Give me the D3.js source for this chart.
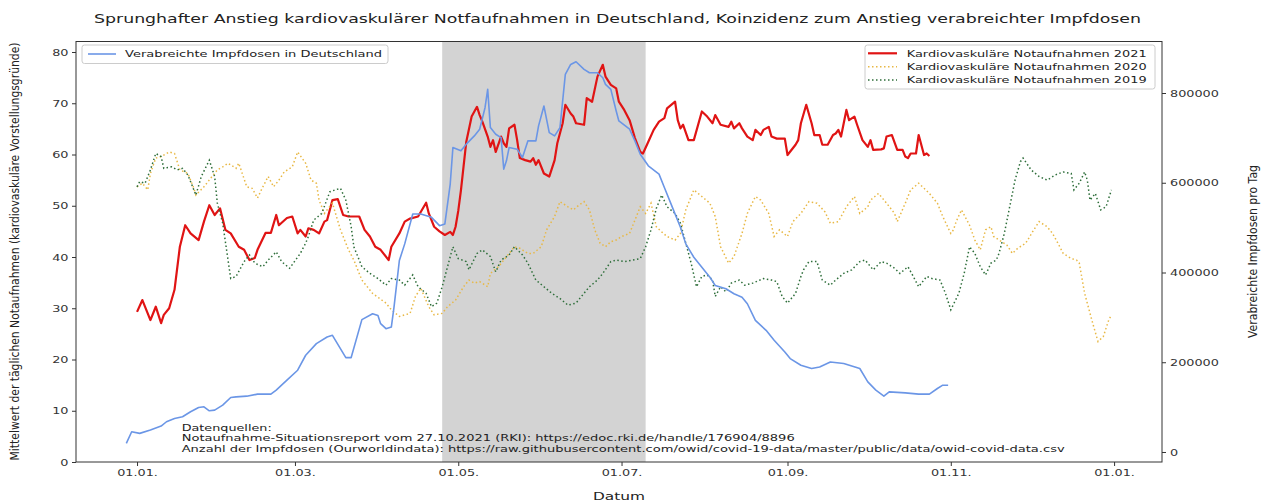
<!DOCTYPE html>
<html>
<head>
<meta charset="utf-8">
<script src="https://cdn.jsdelivr.net/npm/d3@7"></script>
<style>
body { margin:0; background:#fff; }
svg { display:block; font-family:"DejaVu Sans", sans-serif; }
</style>
</head>
<body>
<script>
// Tage ab 01.01. (Tag 0) und Werte
var days2021 = [0,2,5,7,9,10,12,14,16,18,20,23,25,27,29,31,33,35,38,40,42,44,45,48,50,52,53,56,58,60,61,63,64,66,68,70,71,73,75,77,79,83,85,87,89,91,94,95,98,100,102,105,108,109,111,113,115,117,118,119,120,121,123,125,127,128,129,131,132,133,134,136,137,138,139,141,142,143,145,147,148,149,150,152,154,156,157,159,160,162,163,164,167,168,170,172,174,175,177,179,180,182,184,186,188,189,191,193,195,197,198,201,202,203,204,206,208,211,213,215,216,218,221,222,223,225,226,228,230,231,233,234,236,237,239,242,243,246,247,248,250,252,253,255,256,258,260,261,262,263,265,266,268,269,271,273,274,275,278,279,280,282,284,286,287,288,289,291,292,294,295,296];
var cardio2021 = [29.3,31.6,27.7,30.3,27.1,28.7,30.0,33.6,42.0,46.2,44.6,43.3,46.9,50.1,48.2,49.5,45.3,44.6,42.0,41.4,39.4,39.8,41.4,44.7,44.7,48.2,46.2,47.6,47.9,44.6,45.3,44.0,45.6,45.3,44.6,46.9,47.2,51.1,51.3,48.2,47.9,47.9,45.3,44.0,42.0,41.4,39.4,42.0,44.6,46.9,47.5,47.9,50.6,48.5,45.9,45.0,44.3,44.9,44.3,45.9,49.0,53.0,62.5,67.4,69.3,67.7,66.4,63.5,61.5,62.8,60.5,63.5,62.2,61.5,65.1,65.8,62.8,59.3,58.9,58.6,59.3,58.0,58.9,56.3,55.7,58.9,62.2,66.1,69.7,68.0,67.4,66.1,65.8,71.0,70.3,75.2,77.5,75.2,73.6,72.9,70.3,68.7,66.7,63.2,60.5,60.2,62.5,64.8,66.4,67.1,69.0,70.3,66.7,65.1,65.8,62.8,62.8,68.4,67.4,66.1,67.7,65.8,65.4,66.4,65.1,66.1,65.1,63.5,62.8,64.8,63.8,64.8,65.4,63.5,63.1,63.1,59.9,61.9,62.8,66.1,69.7,66.1,63.8,63.8,61.9,61.9,63.8,64.1,64.8,63.5,68.7,66.7,67.4,65.8,62.8,61.5,62.8,60.9,61.0,61.2,63.5,63.8,60.9,60.9,59.6,59.3,60.2,60.2,63.8,59.9,60.2,59.7];

var days2020 = [0,2,4,5,7,9,12,14,16,19,21,22,25,28,30,32,34,37,38,41,43,45,47,49,51,53,55,58,60,63,65,67,68,70,71,73,76,79,81,84,88,93,95,98,100,102,104,106,109,111,114,116,119,122,124,126,128,131,132,135,137,141,143,146,148,151,153,156,158,161,163,165,167,169,171,173,175,177,179,181,184,186,188,190,192,194,196,198,201,203,205,208,211,214,216,218,221,223,226,228,231,233,236,238,240,243,245,248,251,254,257,259,262,265,268,270,273,274,277,280,283,284,287,289,292,294,296,299,301,304,305,306,308,311,313,315,317,319,320,323,325,327,329,332,335,337,340,342,344,346,349,351,352,354,357,359,361,363,364];
var cardio2020 = [53.7,54.4,53.1,56.3,59.3,59.6,60.5,60.2,57.0,56.3,53.7,52.1,53.7,55.7,57.0,57.6,58.3,57.3,58.3,53.7,53.4,51.5,53.7,55.7,53.7,55.0,56.6,57.6,60.5,58.3,55.0,54.4,51.1,48.5,49.2,50.5,45.3,41.4,39.4,35.5,32.9,31.0,29.7,28.4,28.7,29.0,32.3,33.9,30.3,28.7,29.0,30.3,31.6,34.2,35.5,34.9,35.2,34.2,36.8,38.1,39.4,42.0,41.7,40.7,40.7,42.0,45.3,47.9,50.8,49.8,49.2,50.1,50.8,49.2,45.3,42.7,42.0,43.0,43.3,44.0,44.6,47.2,49.8,48.5,50.5,45.9,44.9,44.0,43.3,44.6,49.2,53.1,51.8,50.5,47.9,42.0,38.8,40.1,44.6,48.5,51.8,51.1,48.5,44.0,45.3,44.0,46.9,48.5,50.8,50.5,48.8,46.6,46.9,49.8,51.8,48.5,49.8,51.1,52.4,50.5,48.5,46.9,50.5,53.1,54.4,53.4,52.4,50.5,47.9,44.6,45.3,46.9,49.2,46.2,43.3,41.4,45.3,45.9,44.0,43.0,42.3,40.7,41.7,42.7,45.3,46.9,45.9,44.6,42.7,40.7,39.7,39.4,38.8,32.9,27.1,23.5,24.5,27.7,28.7];

var days2019 = [0,1,3,5,7,9,10,13,15,17,19,22,24,27,29,30,32,34,35,37,40,42,44,47,49,52,54,57,61,63,64,66,69,72,74,76,78,80,81,84,87,90,93,95,98,100,103,105,108,110,112,114,116,118,120,123,124,127,129,132,134,136,139,141,144,146,149,152,155,158,161,164,166,169,172,174,177,179,182,185,188,190,192,194,196,198,201,203,205,207,209,211,213,215,216,218,220,222,225,227,230,234,237,239,241,243,246,248,249,251,254,256,259,261,264,267,270,272,275,278,280,283,285,288,290,292,295,297,300,302,304,307,309,311,313,315,317,319,321,322,324,326,328,330,331,334,337,340,343,346,349,350,352,354,355,356,358,360,362,364];
var cardio2019 = [53.7,54.7,54.4,57.0,60.2,59.6,57.3,57.6,57.0,57.3,56.0,52.1,55.7,58.9,55.7,50.5,46.6,39.4,35.8,36.2,39.1,40.4,38.8,38.1,39.4,41.0,39.1,37.8,40.7,42.7,44.0,47.2,48.5,52.7,53.1,53.4,51.1,45.9,42.0,38.1,36.8,35.8,34.5,35.8,35.5,34.5,36.5,34.2,32.9,30.3,31.0,34.2,38.1,42.0,39.7,39.1,37.5,40.7,41.4,40.1,37.1,39.4,40.4,42.0,40.4,38.8,35.5,34.2,32.9,31.9,30.6,31.0,32.3,34.2,35.5,36.8,39.1,39.4,39.1,39.4,39.7,42.0,45.3,49.5,52.1,49.8,48.5,46.6,42.7,38.8,34.2,36.2,36.5,35.5,32.3,34.2,33.2,34.9,35.5,34.5,34.9,35.8,35.5,35.2,32.3,31.0,32.9,36.2,37.5,39.1,39.1,35.5,34.5,35.5,36.8,37.5,39.1,39.4,37.5,39.1,38.8,37.8,36.8,38.1,36.2,34.2,36.2,35.8,35.5,32.9,29.7,32.9,36.8,42.0,40.7,38.1,36.5,38.8,39.4,40.7,44.6,49.8,55.0,58.6,59.3,57.0,55.7,55.0,56.0,56.6,56.3,53.1,54.4,56.6,55.0,51.1,52.4,49.2,49.8,53.1];

var vaccDays = [-4,-2,1,5,9,11,14,17,20,23,25,27,29,32,35,37,41,45,50,52,56,60,63,67,71,73,78,80,84,88,90,91,93,95,96,98,100,103,106,110,113,115,117,118,121,123,126,128,130,131,132,134,136,137,138,139,142,144,146,149,150,152,154,156,158,160,162,164,167,169,172,174,175,177,179,180,184,186,188,191,195,197,200,203,205,208,211,214,216,220,223,226,228,231,235,238,242,244,248,252,255,259,264,270,273,276,279,281,287,292,296,299,301,303];
var vaccDoses = [19300,45100,41500,48900,57800,67400,74800,78500,89600,99300,100700,91800,93300,104400,121500,122900,124400,128900,128900,137800,160000,182200,215600,241500,256200,260000,210400,210400,295000,308200,304000,286000,274800,278500,322900,426700,463800,530400,530400,522900,504400,508200,597100,678400,671100,686000,704400,719300,767300,808200,722900,708200,700700,630400,648900,678400,674800,656200,693300,693300,726700,771100,711800,704400,722900,841600,863700,869600,852700,845100,845100,834000,819300,808200,760000,737800,719300,693300,663700,637800,619300,589600,545100,500700,463800,434000,411800,389600,371100,363700,352700,345100,330400,293300,271100,248900,222900,208200,193300,186000,189600,200700,197100,186000,156200,137800,124400,134000,131800,128900,128900,141500,148900,148900];

var spanDates = ["2021-04-25", "2021-07-10"];
var xTickDates = ["2021-01-01","2021-03-01","2021-05-01","2021-07-01","2021-09-01","2021-11-01","2022-01-01"];
var leftTicks = [0,10,20,30,40,50,60,70,80];
var rightTicks = [0,200000,400000,600000,800000];

var titleText = "Sprunghafter Anstieg kardiovaskulärer Notfaufnahmen in Deutschland, Koinzidenz zum Anstieg verabreichter Impfdosen";
var legendRight = ["Kardiovaskuläre Notaufnahmen 2021", "Kardiovaskuläre Notaufnahmen 2020", "Kardiovaskuläre Notaufnahmen 2019"];
var legendLeft = "Verabreichte Impfdosen in Deutschland";
var sourceLines = ["Datenquellen:",
  "Notaufnahme-Situationsreport vom 27.10.2021 (RKI): https://edoc.rki.de/handle/176904/8896",
  "Anzahl der Impfdosen (Ourworldindata): https://raw.githubusercontent.com/owid/covid-19-data/master/public/data/owid-covid-data.csv"];

var width = 1264, height = 504;
var plot = {left:76, right:1162, top:41.5, bottom:462};
var SX = 1.35; // das Bild ist waagrecht gestreckt

var jan1 = new Date(2021, 0, 1);
function dayToDate(d) { return new Date(jan1.getTime() + d * 864e5); }
var parse = d3.timeParse("%Y-%m-%d");

var x = d3.scaleTime()
    .domain([dayToDate(-22.8), dayToDate(382.9)])
    .range([plot.left, plot.right]);
var yL = d3.scaleLinear().domain([0, 82.05]).range([plot.bottom, plot.top]);
var yR = d3.scaleLinear().domain([-22300, 914800]).range([plot.bottom, plot.top]);

var svg = d3.select("body").append("svg")
    .attr("width", width).attr("height", height);

svg.append("defs").append("clipPath").attr("id", "clip")
  .append("rect")
    .attr("x", plot.left).attr("y", plot.top)
    .attr("width", plot.right - plot.left).attr("height", plot.bottom - plot.top);

// grauer Zeitraum
svg.append("rect")
    .attr("x", x(parse(spanDates[0])))
    .attr("y", plot.top)
    .attr("width", x(parse(spanDates[1])) - x(parse(spanDates[0])))
    .attr("height", plot.bottom - plot.top)
    .attr("fill", "#d3d3d3");

var lines = svg.append("g").attr("clip-path", "url(#clip)");

function series(days, vals) {
  return days.map(function(d, i) { return {date: dayToDate(d), v: vals[i]}; });
}
var lineL = d3.line().x(function(d){ return x(d.date); }).y(function(d){ return yL(d.v); });
var lineR = d3.line().x(function(d){ return x(d.date); }).y(function(d){ return yR(d.v); });

lines.append("path").attr("d", lineL(series(days2021, cardio2021)))
    .attr("fill", "none").attr("stroke", "#e01414").attr("stroke-width", 2.2)
    .attr("stroke-linejoin", "round");
lines.append("path").attr("d", lineL(series(days2020, cardio2020)))
    .attr("fill", "none").attr("stroke", "#e8b845").attr("stroke-width", 1.5)
    .attr("stroke-dasharray", "1.5,2.5");
lines.append("path").attr("d", lineL(series(days2019, cardio2019)))
    .attr("fill", "none").attr("stroke", "#2e6e3a").attr("stroke-width", 1.5)
    .attr("stroke-dasharray", "1.5,2.5");
lines.append("path").attr("d", lineR(series(vaccDays, vaccDoses)))
    .attr("fill", "none").attr("stroke", "#6b96e6").attr("stroke-width", 1.6)
    .attr("stroke-linejoin", "round");

// Rahmen
svg.append("rect")
    .attr("x", plot.left).attr("y", plot.top)
    .attr("width", plot.right - plot.left).attr("height", plot.bottom - plot.top)
    .attr("fill", "none").attr("stroke", "#333").attr("stroke-width", 1);

// Achsen
var xAxis = svg.append("g").attr("transform", "translate(0," + plot.bottom + ")")
    .call(d3.axisBottom(x).tickValues(xTickDates.map(parse))
      .tickFormat(d3.timeFormat("%d.%m.")).tickSize(4));
var leftAxis = svg.append("g").attr("transform", "translate(" + plot.left + ",0)")
    .call(d3.axisLeft(yL).tickValues(leftTicks).tickSize(4));
var rightAxis = svg.append("g").attr("transform", "translate(" + plot.right + ",0)")
    .call(d3.axisRight(yR).tickValues(rightTicks).tickFormat(d3.format("d")).tickSize(4));

[xAxis, leftAxis, rightAxis].forEach(function(a) {
  a.select(".domain").remove();
  a.selectAll(".tick line").attr("stroke", "#333");
  a.selectAll(".tick text").attr("fill", "#333").style("font-size", "9.5px")
    .style("font-family", "DejaVu Sans");
});
xAxis.selectAll(".tick text").attr("y", 0).attr("dy", "0.71em")
    .attr("transform", "translate(0,7) scale(" + SX + ",1)");
leftAxis.selectAll(".tick text").attr("x", 0)
    .attr("transform", "translate(-7.5,0) scale(" + SX + ",1)");
rightAxis.selectAll(".tick text").attr("x", 0)
    .attr("transform", "translate(8,0) scale(" + SX + ",1)");

function stretchText(g, str, px, py, size, len, anchor) {
  return g.append("text").attr("x", px).attr("y", py)
    .attr("text-anchor", anchor || "start")
    .style("font-size", size + "px").attr("fill", "#222")
    .attr("textLength", len).attr("lengthAdjust", "spacingAndGlyphs")
    .text(str);
}

// Titel und Achsenbeschriftungen
stretchText(svg, titleText, 617.5, 22.5, 12, 1047, "middle");
stretchText(svg, "Datum", 619, 499.5, 10, 52, "middle");

svg.append("g").attr("transform", "translate(15,251.5) scale(" + SX + ",1) rotate(-90)")
  .call(function(g){
    stretchText(g, "Mittelwert der täglichen Notaufnahmen (kardiovaskuläre Vorstellungsgründe)", 0, 0, 9.5, 418, "middle")
      .attr("dy", "0.35em");
  });
svg.append("g").attr("transform", "translate(1253,251.5) scale(" + SX + ",1) rotate(-90)")
  .call(function(g){
    stretchText(g, "Verabreichte Impfdosen pro Tag", 0, 0, 9.5, 173, "middle")
      .attr("dy", "0.35em");
  });

// Datenquellen
var srcY = [430.5, 441, 451.5];
var srcW = [90, 613, 883];
sourceLines.forEach(function(s, i) {
  stretchText(svg, s, 181.7, srcY[i], 9.5, srcW[i]);
});

// Legenden
function legendBox(x0, y0, w, h) {
  svg.append("rect").attr("x", x0).attr("y", y0).attr("width", w).attr("height", h)
    .attr("rx", 2.5).attr("fill", "#fff").attr("fill-opacity", 0.8)
    .attr("stroke", "#cccccc").attr("stroke-width", 1);
}
legendBox(82, 45, 306, 18.5);
svg.append("line").attr("x1", 88).attr("x2", 116).attr("y1", 54).attr("y2", 54)
    .attr("stroke", "#6b96e6").attr("stroke-width", 1.6);
stretchText(svg, legendLeft, 125, 57, 9.5, 257);

legendBox(865, 45, 290, 44);
var legStyles = [
  {stroke:"#e01414", w:2.2, dash:null},
  {stroke:"#e8b845", w:1.5, dash:"1.5,2.5"},
  {stroke:"#2e6e3a", w:1.5, dash:"1.5,2.5"}
];
legendRight.forEach(function(s, i) {
  var ly = 53.3 + i * 13.35;
  svg.append("line").attr("x1", 868).attr("x2", 897).attr("y1", ly).attr("y2", ly)
    .attr("stroke", legStyles[i].stroke).attr("stroke-width", legStyles[i].w)
    .attr("stroke-dasharray", legStyles[i].dash);
  stretchText(svg, s, 906.7, ly + 3.4, 9.5, 240);
});
</script>
</body>
</html>
